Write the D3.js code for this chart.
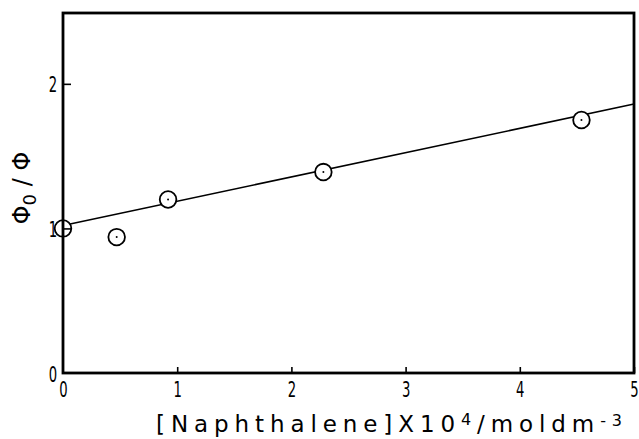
<!DOCTYPE html>
<html>
<head>
<meta charset="utf-8">
<script src="https://cdn.jsdelivr.net/npm/d3@7"></script>
<style>
  body { margin: 0; background: #fff; }
  svg text { font-family: "DejaVu Sans", sans-serif; fill: #000; }
</style>
</head>
<body>
<div id="chart"></div>
<script>
// data
var conc = [0, 0.47, 0.92, 2.28, 4.54];          // [Naphthalene] x 10^4
var ratio = [1.0, 0.94, 1.20, 1.39, 1.75];       // Phi0 / Phi
var fitX = [0, 5];
var fitY = [1.02, 1.86];
var xTicks = [0, 1, 2, 3, 4, 5];
var yTicks = [0, 1, 2];

var W = 639, H = 439;
var margin = {top: 13, right: 5, bottom: 66, left: 63};
var width = W - margin.left - margin.right,
    height = H - margin.top - margin.bottom;

var svg = d3.select("#chart").append("svg")
    .attr("width", W).attr("height", H);
var g = svg.append("g")
    .attr("transform", `translate(${margin.left},${margin.top})`);

var x = d3.scaleLinear().domain([0, 5]).range([0, width]);
var y = d3.scaleLinear().domain([0, 2.49]).range([height, 0]);

// fitted line
g.append("path")
  .datum(d3.zip(fitX, fitY))
  .attr("fill", "none")
  .attr("stroke", "#000")
  .attr("stroke-width", 1.6)
  .attr("d", d3.line().x(d => x(d[0])).y(d => y(d[1])));

// markers: open circle with a centre dot
var pts = d3.zip(conc, ratio);
g.selectAll("circle.m").data(pts).enter().append("circle")
  .attr("class", "m")
  .attr("cx", d => x(d[0])).attr("cy", d => y(d[1]))
  .attr("r", 8.3)
  .attr("fill", "#fff").attr("stroke", "#000").attr("stroke-width", 1.8);
g.selectAll("circle.d").data(pts).enter().append("circle")
  .attr("class", "d")
  .attr("cx", d => x(d[0])).attr("cy", d => y(d[1]))
  .attr("r", 1).attr("fill", "#000");

// frame
g.append("rect")
  .attr("x", 0).attr("y", 0).attr("width", width).attr("height", height)
  .attr("fill", "none").attr("stroke", "#000").attr("stroke-width", 2.8);

// inward ticks
var xAxis = d3.axisBottom(x).tickValues(xTicks).tickSizeInner(-6).tickSizeOuter(0).tickFormat(d3.format("d"));
var gx = g.append("g").attr("transform", `translate(0,${height})`).call(xAxis);
var yAxis = d3.axisLeft(y).tickValues(yTicks).tickSizeInner(-8).tickSizeOuter(0).tickFormat(d3.format("d"));
var gy = g.append("g").call(yAxis);
[gx, gy].forEach(function(a) {
  a.select(".domain").remove();
  a.selectAll("line").attr("stroke", "#000").attr("stroke-width", 1.6);
  a.selectAll("text").attr("font-size", 22).attr("font-family", null);
});
gx.select(".tick:first-of-type line").remove();
gy.select(".tick:first-of-type line").remove();
// narrow, tall digits like the original
gx.selectAll("text").attr("y", 0).attr("dy", null)
  .attr("transform", "translate(0,24) scale(0.6,1)");
gy.selectAll("text").attr("x", 0).attr("dy", null).attr("text-anchor", "middle")
  .attr("transform", "translate(-10,8) scale(0.6,1)");

// axis titles
var xt = svg.append("text")
  .attr("x", 156).attr("y", 432)
  .attr("font-size", 23)
  .attr("font-family", "'Liberation Mono', 'DejaVu Sans Mono', monospace")
  .attr("textLength", 466).attr("lengthAdjust", "spacing");
xt.append("tspan").text("[Naphthalene]X10");
xt.append("tspan").attr("dy", -7).attr("font-size", 16).text("4");
xt.append("tspan").attr("dy", 7).text("/moldm");
xt.append("tspan").attr("dy", -6).attr("font-size", 16).text("-3");

var yt = svg.append("text")
  .attr("transform", "translate(30,188) rotate(-90)")
  .attr("text-anchor", "middle")
  .attr("font-size", 24);
yt.append("tspan").text("Φ");
yt.append("tspan").attr("dy", 6).attr("font-size", 18).text("0");
yt.append("tspan").attr("dy", -6).text(" / Φ");
</script>
</body>
</html>
